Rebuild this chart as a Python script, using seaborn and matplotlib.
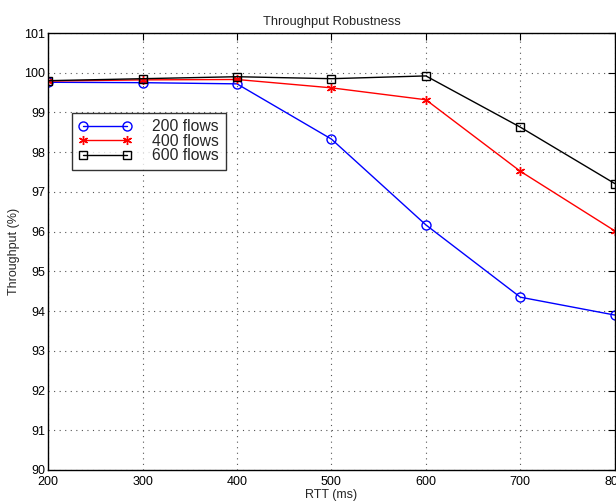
import matplotlib
matplotlib.use("Agg")
import matplotlib.pyplot as plt
import seaborn as sns
import pandas as pd

rtt = [200, 300, 400, 500, 600, 700, 800]
flows_200 = [99.76, 99.75, 99.72, 98.33, 96.17, 94.35, 93.90]
flows_400 = [99.79, 99.82, 99.83, 99.62, 99.32, 97.52, 96.02]
flows_600 = [99.80, 99.85, 99.90, 99.85, 99.92, 98.63, 97.21]
series_names = ["200 flows", "400 flows", "600 flows"]
x_ticks = [200, 300, 400, 500, 600, 700, 800]
y_ticks = list(range(90, 102))

df = pd.concat([
    pd.DataFrame({"RTT": rtt, "Throughput": vals, "series": name})
    for name, vals in zip(series_names, [flows_200, flows_400, flows_600])
])

sns.set_style("white")
plt.rcParams["font.family"] = ["Liberation Sans", "DejaVu Sans"]

fig = plt.figure(figsize=(6.16, 5.04), dpi=100)
ax = fig.add_axes([0.078, 0.0675, 0.92, 0.867])

colors = {"200 flows": "#0000ff", "400 flows": "#ff0000", "600 flows": "#000000"}
markers = {"200 flows": "o", "400 flows": (6, 2, 0), "600 flows": "s"}
sizes = {"200 flows": 6.5, "400 flows": 6.5, "600 flows": 5.5}

for name in series_names:
    sub = df[df["series"] == name]
    sns.lineplot(data=sub, x="RTT", y="Throughput", ax=ax, color=colors[name],
                 marker=markers[name], markersize=sizes[name],
                 markerfacecolor="none" if name != "400 flows" else colors[name],
                 markeredgecolor=colors[name], markeredgewidth=1.0,
                 linewidth=1.0, label=name)

ax.set_xlim(200, 800)
ax.set_ylim(90, 101)
ax.set_xticks(x_ticks)
ax.set_yticks(y_ticks)
ax.tick_params(direction="in", length=5, labelsize=9, colors="black",
               top=True, right=True, width=0.8, pad=2)
ax.tick_params(axis="x", pad=4)
for s in ax.spines.values():
    s.set_color("black")
    s.set_linewidth(1.0)
ax.grid(True, linestyle=(0, (1, 4)), color="#555555", linewidth=0.8)
ax.set_axisbelow(True)

ax.set_xlabel("RTT (ms)", fontsize=9, labelpad=1)
ax.set_ylabel("Throughput (%)", fontsize=9, labelpad=3)
ax.set_title("Throughput Robustness", fontsize=9.3, pad=6)

leg = ax.legend(loc="upper left", bbox_to_anchor=(0.042, 0.818), fontsize=11.3,
                frameon=True, fancybox=False, edgecolor="black", numpoints=2,
                handlelength=3.4, handletextpad=1.3, borderpad=0.42,
                labelspacing=-0.03, borderaxespad=0)
leg.get_frame().set_linewidth(1.0)

fig.savefig("out.png", dpi=100)
